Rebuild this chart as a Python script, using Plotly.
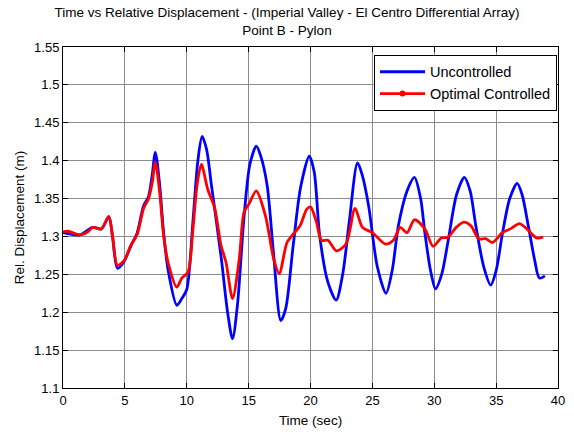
import plotly.graph_objects as go

t_unc = [0, 1.35, 2.4, 3.1, 3.7, 4.0, 4.4, 4.9, 5.5, 6.0, 6.5, 6.9, 7.2, 7.46, 7.8, 8.13, 8.5, 9.2, 9.6, 10.0,
         10.5, 10.9, 11.24, 11.6, 12.0, 12.8, 13.3, 13.7, 14.1, 14.6, 15.1, 15.62, 16.0, 16.5, 17.0, 17.6,
         18.0, 18.6, 19.2, 19.9, 20.3, 20.74, 21.4, 22.07, 22.6, 23.13, 23.8, 24.2, 24.7, 25.4, 26.1, 26.6,
         27.1, 27.8, 28.4, 28.9, 29.24, 29.7, 30.1, 30.6, 31.1, 31.8, 32.43, 32.9, 33.36, 34.0, 34.56, 35.0,
         35.5, 36.1, 36.7, 37.1, 37.6, 38.1, 38.5, 38.94]
y_unc = [1.305, 1.302, 1.312, 1.310, 1.326, 1.300, 1.258, 1.266, 1.288, 1.305, 1.340, 1.352, 1.380, 1.411,
         1.370, 1.305, 1.255, 1.209, 1.218, 1.230, 1.320, 1.400, 1.432, 1.415, 1.367, 1.270, 1.200, 1.165,
         1.210, 1.320, 1.395, 1.419, 1.405, 1.367, 1.280, 1.189, 1.205, 1.288, 1.365, 1.406, 1.385, 1.301,
         1.240, 1.216, 1.250, 1.319, 1.397, 1.380, 1.340, 1.260, 1.225, 1.255, 1.314, 1.360, 1.378, 1.350,
         1.305, 1.255, 1.231, 1.250, 1.292, 1.355, 1.378, 1.360, 1.314, 1.260, 1.236, 1.255, 1.303, 1.350,
         1.370, 1.355, 1.314, 1.270, 1.245, 1.248]

t_opt = [0, 0.4, 1.35, 2.0, 2.4, 3.1, 3.7, 4.0, 4.4, 4.94, 5.47, 6.0, 6.53, 6.9, 7.2, 7.46, 7.8, 8.13, 8.5,
         9.19, 9.6, 10.1, 10.5, 10.85, 11.18, 11.7, 12.25, 12.77, 13.17, 13.7, 14.24, 14.63, 15.03, 15.62,
         16.36, 17.03, 17.47, 18.1, 18.5, 19.15, 19.7, 20.0, 20.48, 20.88, 21.4, 22.1, 22.87, 23.6, 24.2,
         25.0, 26.05, 26.7, 27.25, 27.8, 28.4, 29.24, 29.9, 30.57, 31.1, 31.77, 32.4, 32.96, 33.6, 34.16,
         34.7, 35.5, 36.15, 36.9, 37.6, 38.27, 38.8]
y_opt = [1.306, 1.307, 1.302, 1.306, 1.312, 1.310, 1.326, 1.301, 1.262, 1.268, 1.288, 1.303, 1.338, 1.349,
         1.370, 1.398, 1.360, 1.301, 1.265, 1.233, 1.245, 1.253, 1.310, 1.370, 1.395, 1.362, 1.338, 1.288,
         1.266, 1.218, 1.270, 1.332, 1.343, 1.360, 1.327, 1.270, 1.251, 1.292, 1.301, 1.314, 1.336, 1.339,
         1.319, 1.295, 1.295, 1.281, 1.290, 1.337, 1.312, 1.305, 1.290, 1.295, 1.312, 1.305, 1.322, 1.310,
         1.287, 1.298, 1.299, 1.312, 1.319, 1.314, 1.297, 1.297, 1.292, 1.305, 1.310, 1.317, 1.308, 1.298,
         1.299]

x_ticks = [0, 5, 10, 15, 20, 25, 30, 35, 40]
y_ticks = [1.1, 1.15, 1.2, 1.25, 1.3, 1.35, 1.4, 1.45, 1.5, 1.55]
y_tick_labels = ["1.1", "1.15", "1.2", "1.25", "1.3", "1.35", "1.4", "1.45", "1.5", "1.55"]

FONT = "Liberation Sans, Arial, sans-serif"

fig = go.Figure()
fig.add_trace(go.Scatter(x=t_unc, y=y_unc, mode="lines", name="Uncontrolled",
                         line=dict(color="#0000ff", width=2.8, shape="spline", smoothing=0.8)))
fig.add_trace(go.Scatter(x=t_opt, y=y_opt, mode="lines", name="Optimal Controlled", showlegend=False,
                         line=dict(color="#ff0000", width=2.8, shape="spline", smoothing=0.8)))
fig.add_trace(go.Scatter(x=[None], y=[None], mode="lines+markers", name="Optimal Controlled",
                         line=dict(color="#ff0000", width=2.8), marker=dict(color="#ff0000", size=6)))

axis_common = dict(showline=True, linecolor="black", linewidth=1, mirror="ticks", ticks="inside",
                   ticklen=5, tickcolor="black", showgrid=True, gridcolor="#8c8c8c", gridwidth=1,
                   zeroline=False, tickfont=dict(family=FONT, size=13, color="black"))

fig.update_layout(
    width=574, height=434,
    margin=dict(l=63, r=9, t=47, b=44),
    paper_bgcolor="white", plot_bgcolor="white",
    font=dict(family=FONT, size=13, color="black"),
    title=dict(text="Time vs Relative Displacement - (Imperial Valley - El Centro Differential Array)<br>Point B - Pylon",
               x=0.5, xanchor="center", y=0.96, yanchor="top", font=dict(family=FONT, size=13.5)),
    xaxis=dict(range=[0, 40], tickvals=x_ticks, title=dict(text="Time (sec)", standoff=8,
               font=dict(family=FONT, size=13.5)), **axis_common),
    yaxis=dict(range=[1.1, 1.55], tickvals=y_ticks, ticktext=y_tick_labels,
               title=dict(text="Rel. Displacement (m)", standoff=6, font=dict(family=FONT, size=13.5)),
               **axis_common),
    legend=dict(x=0.998, xanchor="right", y=0.977, yanchor="top", bgcolor="white", bordercolor="black",
                borderwidth=1, font=dict(family=FONT, size=14.5), tracegroupgap=0, itemwidth=45),
    showlegend=True,
)

fig.write_html("out.html")
